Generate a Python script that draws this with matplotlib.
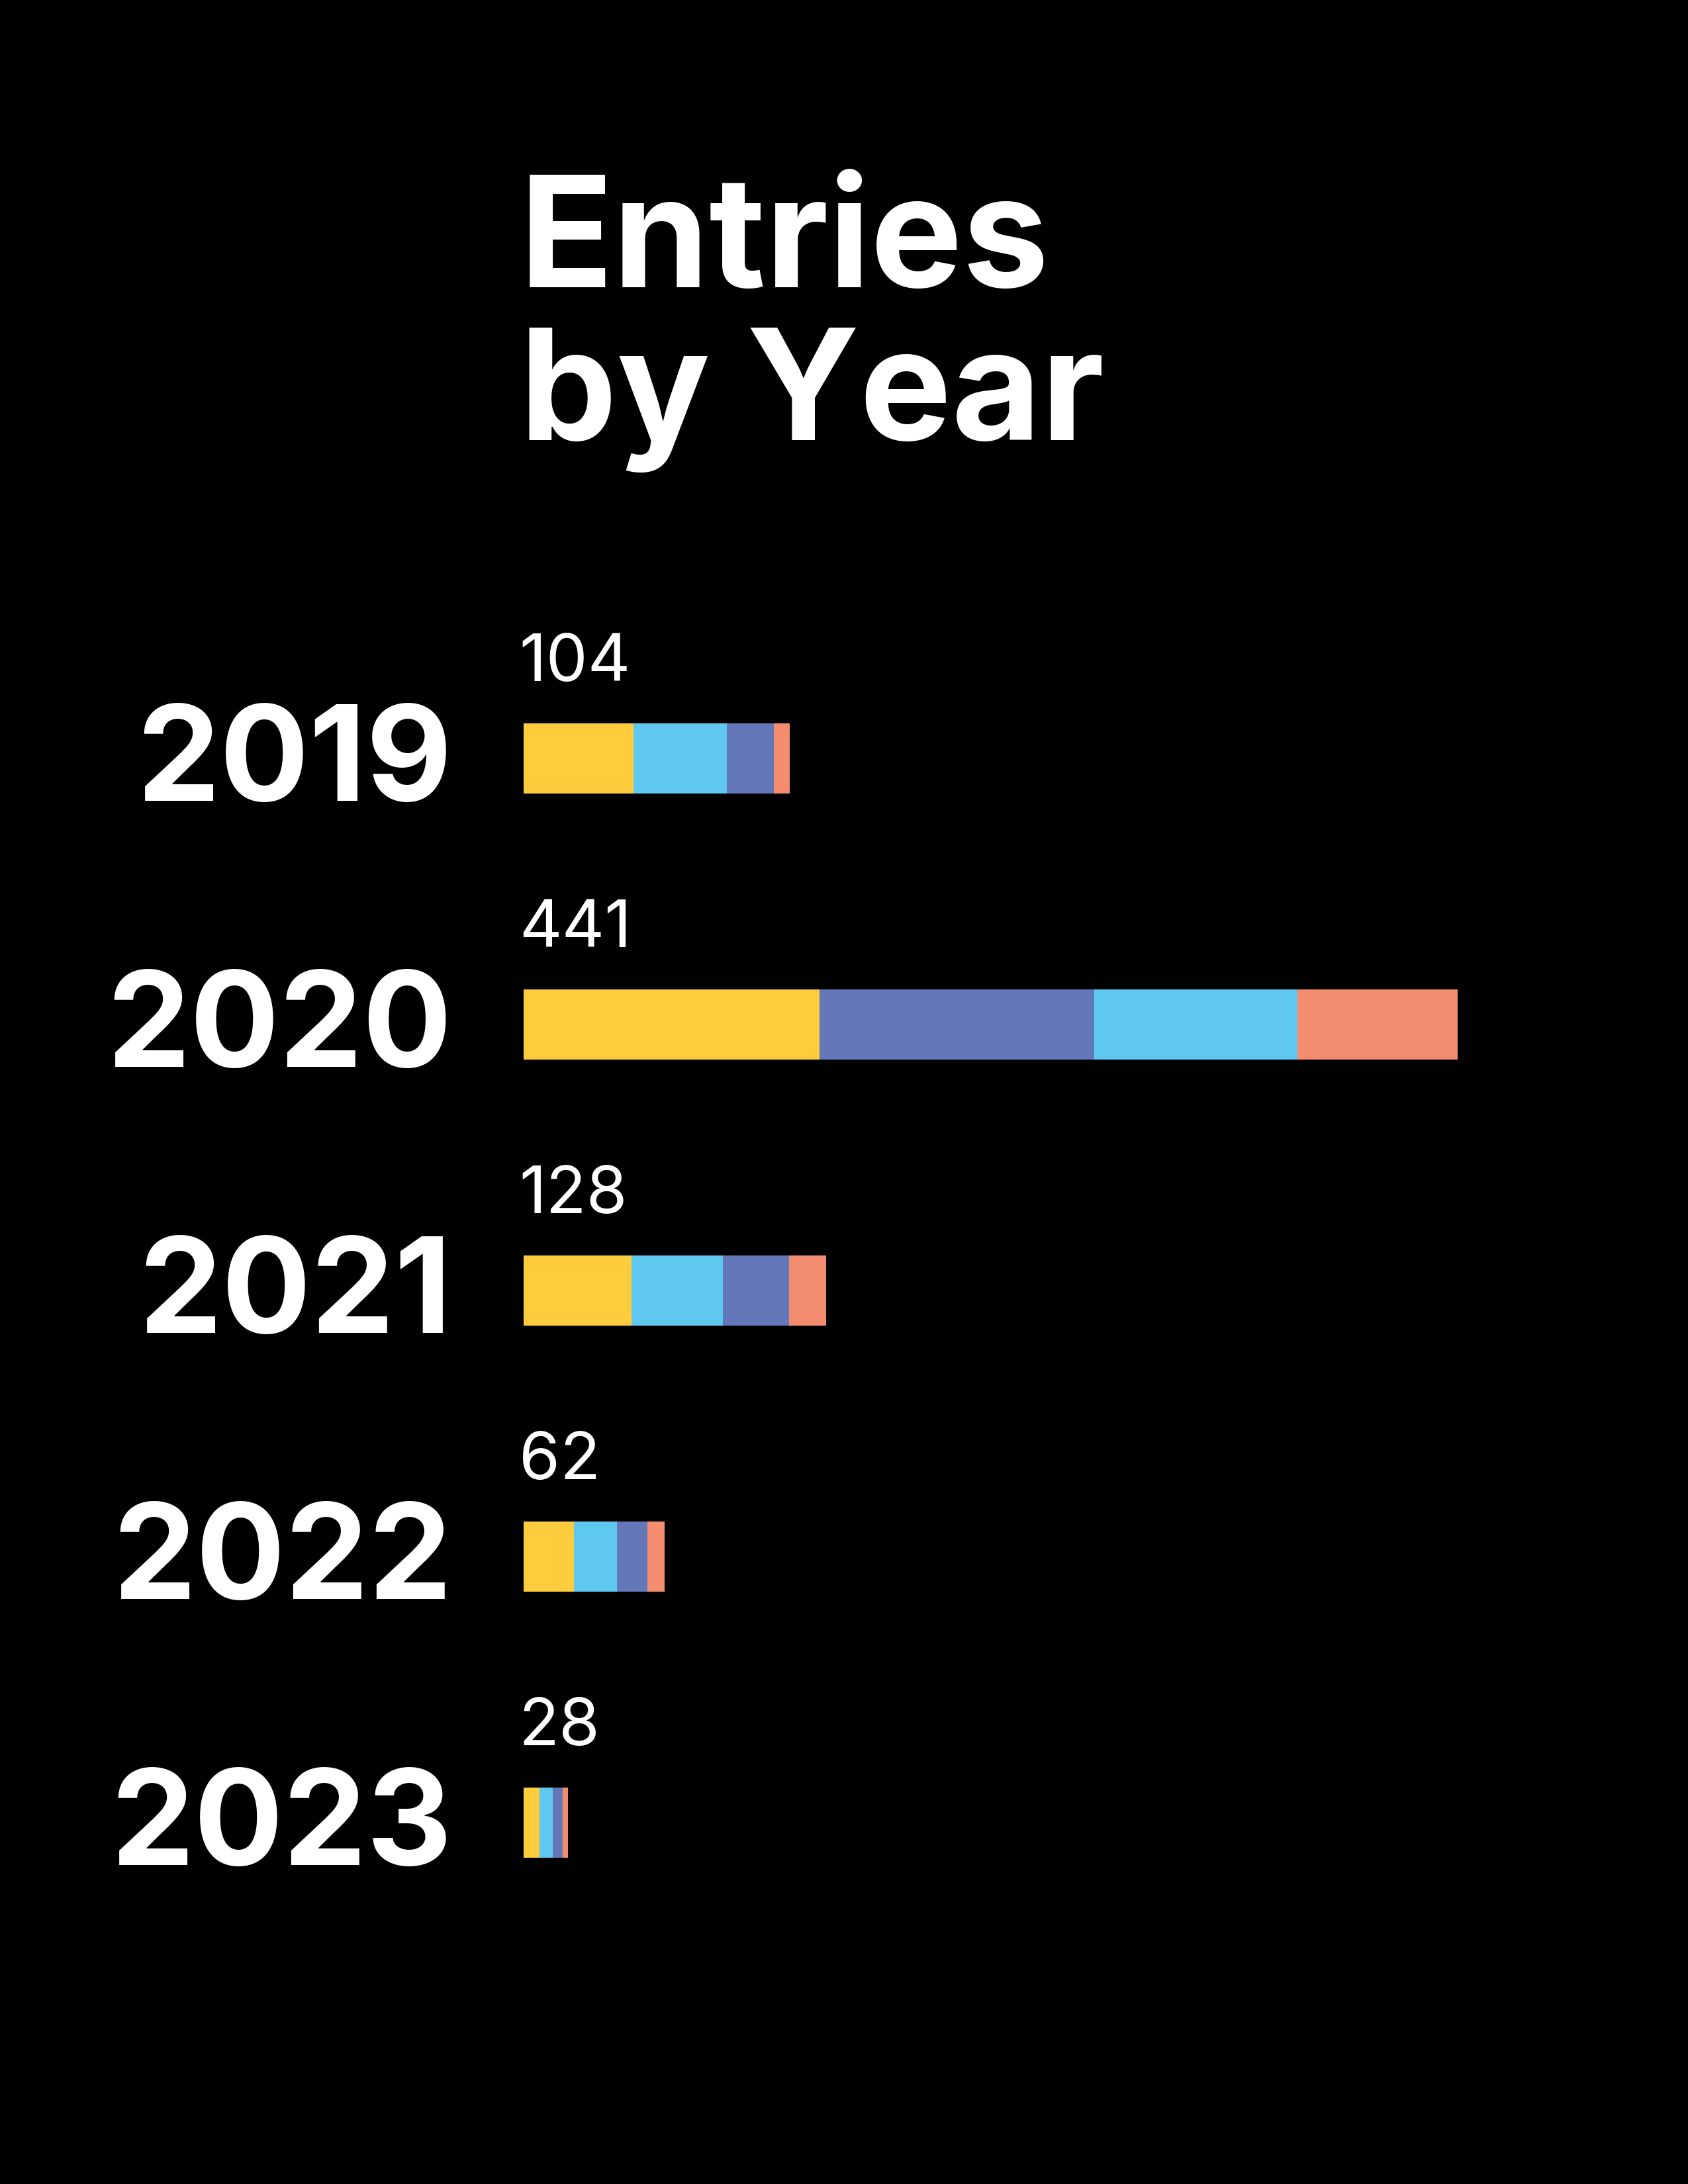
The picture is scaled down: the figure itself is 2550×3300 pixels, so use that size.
import matplotlib
matplotlib.use("Agg")
import matplotlib.pyplot as plt

# bar totals shown above each bar
years = ["2019", "2020", "2021", "2022", "2023"]
totals = [104, 441, 128, 62, 28]

# segment lengths (same scale for every bar)
yellow = [51.9, 139.7, 50.9, 23.8, 7.5]
cyan = [44.1, 95.9, 43.1, 20.2, 6.3]
blue = [22.2, 129.7, 31.3, 14.5, 4.6]
salmon = [7.5, 75.6, 17.5, 8.0, 2.5]

# 2020 stacks blue before cyan
stackOrder = [
    ["yellow", "cyan", "blue", "salmon"],
    ["yellow", "blue", "cyan", "salmon"],
    ["yellow", "cyan", "blue", "salmon"],
    ["yellow", "cyan", "blue", "salmon"],
    ["yellow", "cyan", "blue", "salmon"],
]

segments = {"yellow": yellow, "cyan": cyan, "blue": blue, "salmon": salmon}
colors = {"yellow": "#FECC3D", "cyan": "#5FC8F1", "blue": "#6377B9", "salmon": "#F48D6F"}

plt.rcParams["font.family"] = ["Inter", "DejaVu Sans"]

fig = plt.figure(figsize=(8.5, 11), dpi=300, facecolor="black")
# axes: x=0 at the bars' left edge, one category step = 402 px
ax = fig.add_axes([791 / 2550, 1 - 2955 / 3300, 1 - 791 / 2550, 2010 / 3300])
ax.set_facecolor("black")

barHeight = 0.264
for i, year in enumerate(years):
    left = 0
    for name in stackOrder[i]:
        value = segments[name][i]
        ax.barh(i, value, left=left, height=barHeight, color=colors[name], linewidth=0)
        left += value

    ax.annotate(year, xy=(0, i), xytext=(-26, -15.4), textcoords="offset points",
                ha="right", va="baseline", color="white", fontsize=48, fontweight="bold")
    ax.annotate(str(totals[i]), xy=(0, i), xytext=(-1.7, 28), textcoords="offset points",
                ha="left", va="baseline", color="white", fontsize=24, fontweight="normal")

ax.set_xlim(0, 1759 / 3.2)
ax.set_ylim(4.5, -0.5)
ax.axis("off")

# va=baseline on a two-line text aligns the last line
fig.text(785 / 2550, 1 - 665 / 3300, "Entries\nby Year", ha="left", va="baseline",
         color="white", fontsize=56, fontweight="bold", linespacing=1.075)

fig.savefig("out.png", dpi=300, facecolor="black")
